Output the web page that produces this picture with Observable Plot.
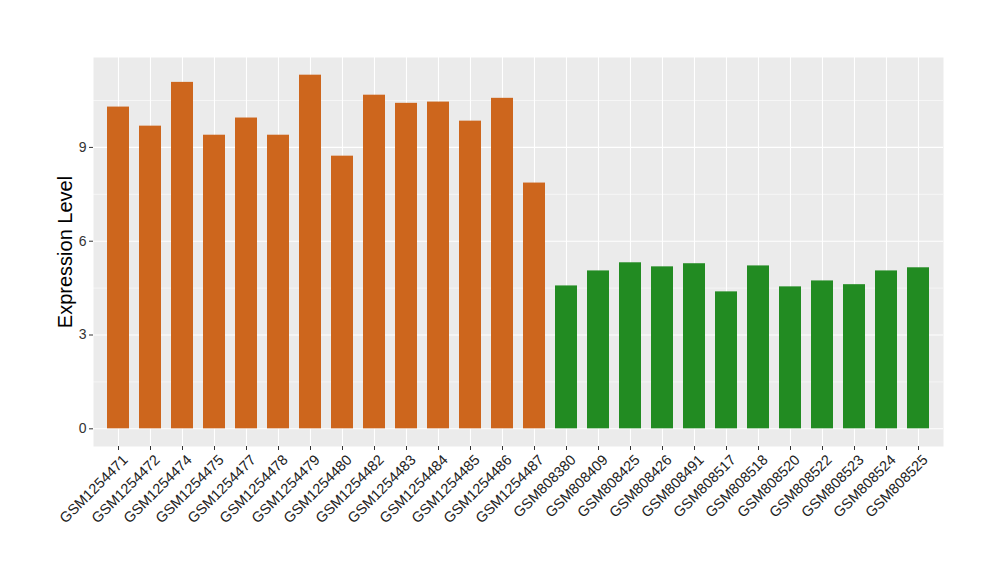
<!DOCTYPE html>
<html><head><meta charset="utf-8">
<script src="https://cdn.jsdelivr.net/npm/d3@7"></script>
<script src="https://cdn.jsdelivr.net/npm/@observablehq/plot@0.6"></script>
<style>body{margin:0;background:#fff;}</style>
</head><body><div id="chart"></div>
<script>
const samples = ["GSM1254471","GSM1254472","GSM1254474","GSM1254475","GSM1254477","GSM1254478","GSM1254479","GSM1254480","GSM1254482","GSM1254483","GSM1254484","GSM1254485","GSM1254486","GSM1254487","GSM808380","GSM808409","GSM808425","GSM808426","GSM808491","GSM808517","GSM808518","GSM808520","GSM808522","GSM808523","GSM808524","GSM808525"];
const values = [10.29,9.68,11.08,9.39,9.94,9.39,11.31,8.72,10.67,10.41,10.45,9.84,10.57,7.86,4.57,5.05,5.31,5.18,5.28,4.38,5.21,4.54,4.73,4.61,5.05,5.15];
const groups = ["A","A","A","A","A","A","A","A","A","A","A","A","A","A","B","B","B","B","B","B","B","B","B","B","B","B"];
const groupNames = ["A","B"];
const groupColors = ["#CD661D","#228B22"];
const yTicks = [0,3,6,9];
const yMinor = [1.5,4.5,7.5,10.5];
const yLabel = "Expression Level";

const data = samples.map((s,i)=>({sample:s, value:values[i], group:groups[i]}));
const ymax = d3.max(values);
const chart = Plot.plot({
  width:1000, height:580,
  marginLeft:93, marginRight:57, marginTop:57, marginBottom:134,
  style:{fontFamily:"'Liberation Sans', Arial, sans-serif", background:"#fff", color:"#333"},
  x:{domain:samples, paddingInner:0.3, paddingOuter:0.25, align:0.5},
  y:{domain:[-0.05*ymax, 1.05*ymax]},
  color:{domain:groupNames, range:groupColors},
  marks:[
    Plot.frame({fill:"#EBEBEB", stroke:null}),
    Plot.gridY(yMinor, {stroke:"#fff", strokeOpacity:1, strokeWidth:0.55}),
    Plot.gridY(yTicks, {stroke:"#fff", strokeOpacity:1, strokeWidth:1.1}),
    Plot.gridX({stroke:"#fff", strokeOpacity:1, strokeWidth:1.1}),
    Plot.barY(data, {x:"sample", y:"value", fill:"group"}),
    Plot.axisY(yTicks, {tickSize:4, tickPadding:3, fontSize:14, label:null, stroke:"#333", fill:"#333"}),
    Plot.axisX({tickSize:4, text:null, label:null, stroke:"#333"}),
    Plot.axisX({tickRotate:-45, tickSize:0, tickPadding:7, fontSize:14.5, label:null, fill:"#222", dx:7, dy:4})
  ].concat([
    Plot.text([yLabel], {text:d=>d, frameAnchor:"left", textAnchor:"middle", dx:-28, rotate:-90, fontSize:20, fill:"#000"})
  ])
});
document.getElementById("chart").appendChild(chart);
</script>
</body></html>
